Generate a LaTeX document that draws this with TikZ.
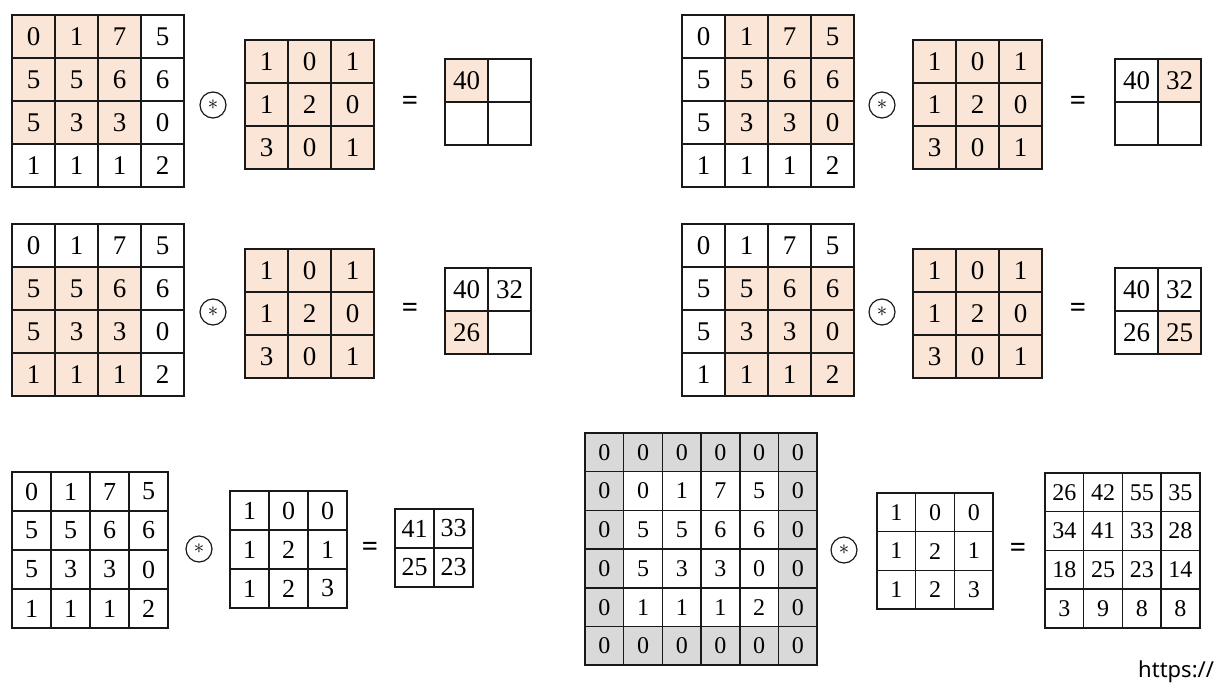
\documentclass[tikz,border=0pt]{standalone}
\usepackage{fontspec}
\setmainfont{Liberation Serif}
\newfontfamily\fonteurl{Noto Sans}
\usepackage{xcolor}
\usetikzlibrary{backgrounds}
\definecolor{pessego}{HTML}{FBE5D6}
\definecolor{cinza}{HTML}{D9D9D9}
\tikzset{
  celula/.style={rectangle, draw=black!90, line width=1.5pt, inner sep=0pt,
    font=\fontsize{27}{32}\selectfont},
  conv/.style={circle, draw=black!90, line width=1.2pt, minimum size=26pt,
    inner sep=0pt, font=\fontsize{21}{21}\selectfont},
  igual/.style={inner sep=0pt, font=\fonteurl\fontsize{29}{34}\selectfont},
  realce/.style={fill=pessego},
  borda/.style={fill=cinza}
}
% [estilo]{nome}{x}{y}{lado}{linhas}
\newcommand{\grade}[6][]{%
  \foreach \linha [count=\i] in {#6} {
    \foreach \v [count=\j] in \linha {
      \node[celula, minimum size=#5pt, #1] (#2-\i-\j) at ({#3+(\j-0.5)*#5},{#4+(\i-0.5)*#5}) {\v};
    }
  }%
}

\begin{document}
\begin{tikzpicture}[x=1pt, y=-1pt]
\useasboundingbox (0,0) rectangle (1217,688);
% passo 1
\grade{a1}{12}{15}{43}{{0,1,7,5},{5,5,6,6},{5,3,3,0},{1,1,1,2}}
\grade{k1}{245}{40}{43}{{1,0,1},{1,2,0},{3,0,1}}
\grade{s1}{445}{59}{43}{{40,{}},{{},{}}}
\node[conv] (o1) at (213,105) {$\ast$};
\node[igual] (q1) at (410,103) {=};
% passo 2
\grade{a2}{682}{15}{43}{{0,1,7,5},{5,5,6,6},{5,3,3,0},{1,1,1,2}}
\grade{k2}{913}{40}{43}{{1,0,1},{1,2,0},{3,0,1}}
\grade{s2}{1115}{59}{43}{{40,32},{{},{}}}
\node[conv] (o2) at (882,105) {$\ast$};
\node[igual] (q2) at (1078,103) {=};
% passo 3
\grade{a3}{12}{224}{43}{{0,1,7,5},{5,5,6,6},{5,3,3,0},{1,1,1,2}}
\grade{k3}{245}{249}{43}{{1,0,1},{1,2,0},{3,0,1}}
\grade{s3}{445}{268}{43}{{40,32},{26,{}}}
\node[conv] (o3) at (213,312) {$\ast$};
\node[igual] (q3) at (410,310) {=};
% passo 4
\grade{a4}{682}{224}{43}{{0,1,7,5},{5,5,6,6},{5,3,3,0},{1,1,1,2}}
\grade{k4}{913}{249}{43}{{1,0,1},{1,2,0},{3,0,1}}
\grade{s4}{1115}{268}{43}{{40,32},{26,25}}
\node[conv] (o4) at (882,312) {$\ast$};
\node[igual] (q4) at (1078,310) {=};
% sem preenchimento
\grade[font=\fontsize{26}{30}\selectfont]{a5}{12}{472}{39}{{0,1,7,5},{5,5,6,6},{5,3,3,0},{1,1,1,2}}
\grade[font=\fontsize{26}{30}\selectfont]{k5}{230}{491}{39}{{1,0,0},{1,2,1},{1,2,3}}
\grade[font=\fontsize{26}{30}\selectfont]{s5}{395}{509}{39}{{41,33},{25,23}}
\node[conv] (o5) at (199,549) {$\ast$};
\node[igual] (q5) at (370,549) {=};
% com preenchimento de zeros
\grade[font=\fontsize{24}{28}\selectfont]{a6}{585}{433}{38.7}{{0,0,0,0,0,0},{0,0,1,7,5,0},{0,5,5,6,6,0},{0,5,3,3,0,0},{0,1,1,1,2,0},{0,0,0,0,0,0}}
\grade[font=\fontsize{24}{28}\selectfont]{k6}{877}{493}{38.7}{{1,0,0},{1,2,1},{1,2,3}}
\grade[font=\fontsize{24}{28}\selectfont]{s6}{1045}{473}{38.7}{{26,42,55,35},{34,41,33,28},{18,25,23,14},{3,9,8,8}}
\node[conv] (o6) at (844,550) {$\ast$};
\node[igual] (q6) at (1018,550) {=};
\node[anchor=base west, inner sep=0pt, font=\fonteurl\fontsize{22}{26}\selectfont] (url) at (1138,677) {https://};
% realces
\begin{scope}[on background layer]
\fill[realce] (a1-1-1.north west) rectangle (a1-3-3.south east);
\fill[realce] (k1-1-1.north west) rectangle (k1-3-3.south east);
\fill[realce] (s1-1-1.north west) rectangle (s1-1-1.south east);
\fill[realce] (a2-1-2.north west) rectangle (a2-3-4.south east);
\fill[realce] (k2-1-1.north west) rectangle (k2-3-3.south east);
\fill[realce] (s2-1-2.north west) rectangle (s2-1-2.south east);
\fill[realce] (a3-2-1.north west) rectangle (a3-4-3.south east);
\fill[realce] (k3-1-1.north west) rectangle (k3-3-3.south east);
\fill[realce] (s3-2-1.north west) rectangle (s3-2-1.south east);
\fill[realce] (a4-2-2.north west) rectangle (a4-4-4.south east);
\fill[realce] (k4-1-1.north west) rectangle (k4-3-3.south east);
\fill[realce] (s4-2-2.north west) rectangle (s4-2-2.south east);
\fill[borda] (a6-1-1.north west) rectangle (a6-6-6.south east);
\fill[white] (a6-2-2.north west) rectangle (a6-5-5.south east);
\end{scope}
\end{tikzpicture}
\end{document}
